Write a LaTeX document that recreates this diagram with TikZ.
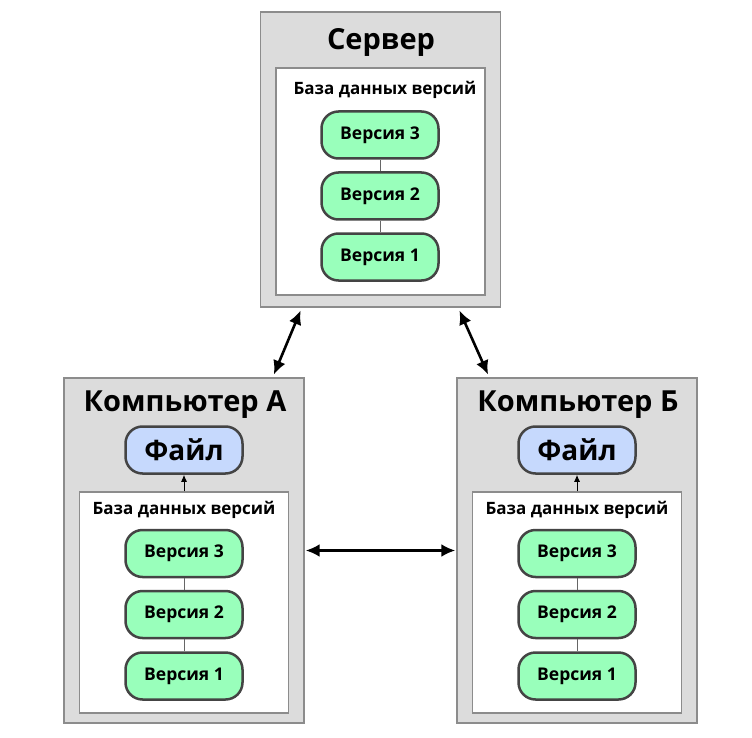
\documentclass[tikz,border=0pt]{standalone}
\usepackage{fontspec}
\setmainfont{Open Sans}
\usetikzlibrary{arrows.meta}

\definecolor{boxgray}{HTML}{DCDCDC}
\definecolor{boxline}{HTML}{8C8C8C}
\definecolor{pilline}{HTML}{444444}
\definecolor{vergreen}{HTML}{99FFBB}
\definecolor{fileblue}{HTML}{C6D9FD}

\begin{document}
\begin{tikzpicture}[x = 1pt, y = -1pt,
  outer/.style = {draw = boxline, fill = boxgray, line width = 1.4pt, minimum width = 240pt},
  dbbox/.style = {draw = boxline, fill = white, line width = 1.4pt, minimum width = 209pt},
  pill/.style = {draw = pilline, rounded corners = 17pt, line width = 2.5pt,
                 minimum width = 117pt, minimum height = 47pt},
  ver/.style = {pill, fill = vergreen, font = \bfseries\fontsize{17.5}{20}\selectfont},
  file/.style = {pill, fill = fileblue, font = \bfseries\fontsize{28}{30}\selectfont},
  title/.style = {font = \bfseries\fontsize{29}{32}\selectfont},
  dblabel/.style = {font = \bfseries\fontsize{17}{20}\selectfont},
  link/.style = {draw = black!60, line width = 1pt},
  sync/.style = {line width = 2.6pt, {Latex[length=14pt,width=13pt]}-{Latex[length=14pt,width=13pt]},
                 shorten < = 3pt, shorten > = 3pt}]
  \useasboundingbox (0,0) rectangle (752,738);

  % server
  \node[outer, minimum height = 295pt] (srv) at (380.5,159.5) {};
  \node[title] (srvtitle) at (381,42) {Сервер};
  \node[dbbox, minimum height = 227pt] (srvdb) at (380.5,181.5) {};
  \node[dblabel] (srvlabel) at (385,90) {База данных версий};
  \foreach \i/\y in {3/135, 2/196, 1/257}
    \node[ver] (srvv\i) at (380,\y) {Версия \i};
  \draw[link] (srvv3) -- (srvv2);
  \draw[link] (srvv2) -- (srvv1);

  % computers
  \foreach \n/\x/\t in {A/184/Компьютер А, B/577/Компьютер Б}
  {
    \node[outer, minimum height = 345pt] (pc\n) at (\x,550.5) {};
    \node[title] (pc\n title) at (\x+1,405) {\t};
    \node[file] (pc\n file) at (\x,450) {Файл};
    \node[dbbox, minimum height = 221pt] (pc\n db) at (\x,602.5) {};
    \node[dblabel] (pc\n label) at (\x,510) {База данных версий};
    \foreach \i/\y in {3/553.5, 2/614.5, 1/676}
      \node[ver] (pc\n v\i) at (\x,\y) {Версия \i};
    \draw[link] (pc\n v3) -- (pc\n v2);
    \draw[link] (pc\n v2) -- (pc\n v1);
    \draw[line width = 1pt, -{Latex[length=7pt,width=6pt]}] (pc\n db.north) -- (pc\n file.south);
  }

  % exchange
  \draw[sync] ([xshift=42pt]srv.south west) -- ([xshift=-32pt]pcA.north east);
  \draw[sync] ([xshift=-43pt]srv.south east) -- ([xshift=33pt]pcB.north west);
  \draw[sync, shorten < = 1pt, shorten > = 1pt] (pcA.east) -- (pcB.west);
\end{tikzpicture}
\end{document}
